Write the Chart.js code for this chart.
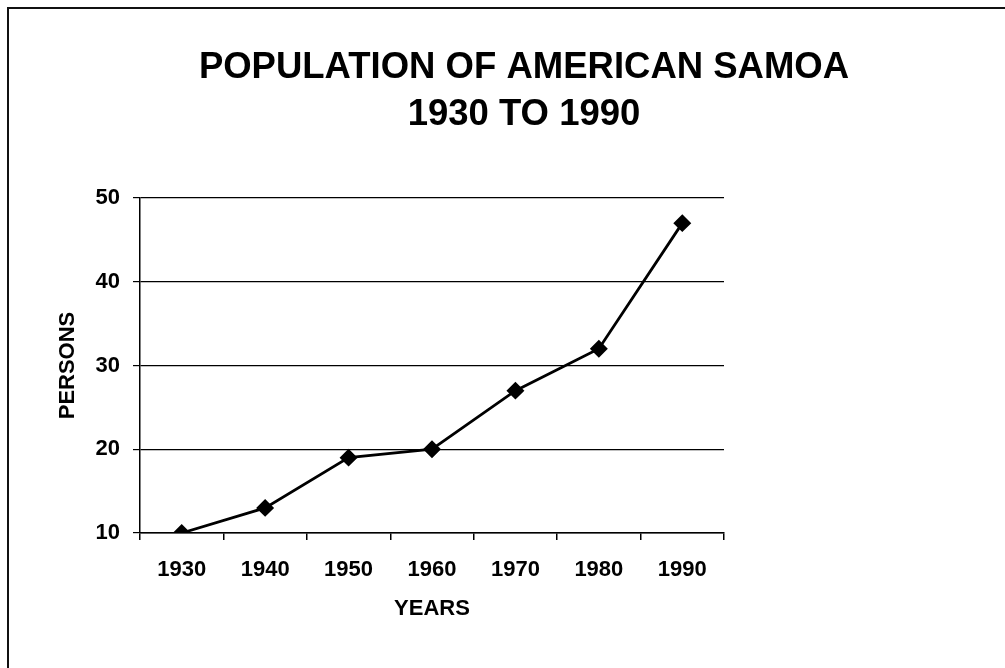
<!DOCTYPE html>
<html>
<head>
<meta charset="utf-8">
<script src="https://cdn.jsdelivr.net/npm/chart.js@4"></script>
<style>
  body { margin: 0; background: #fff; }
  #wrap { position: relative; width: 1005px; height: 668px; overflow: hidden; }
  #frame { position: absolute; left: 7px; top: 7px; width: 1100px; height: 800px;
           border-left: 2px solid #111; border-top: 2px solid #111; }
  canvas { position: absolute; left: 0; top: 0; }
</style>
</head>
<body>
<div id="wrap">
  <div id="frame"></div>
  <canvas id="popChart" width="1005" height="668"></canvas>
</div>
<script>
// chart data
const years = ['1930', '1940', '1950', '1960', '1970', '1980', '1990'];
const persons = [10, 13, 19, 20, 27, 32, 47];
const titleLines = ['POPULATION OF AMERICAN SAMOA', '1930 TO 1990'];
const yMin = 10, yMax = 50, yStep = 10;

const FONT = '"Liberation Sans", Arial, sans-serif';

const ctx = document.getElementById('popChart').getContext('2d');
new Chart(ctx, {
    type: 'line',
    data: {
        labels: years,
        datasets: [{
            label: 'Persons',
            data: persons,
            borderColor: '#000',
            backgroundColor: '#000',
            borderWidth: 2.8,
            pointStyle: 'rectRot',
            pointRadius: 7,
            pointHoverRadius: 7,
            fill: false,
            tension: 0,
            yAxisID: 'y'
        }]
    },
    options: {
        responsive: false,
        animation: false,
        layout: { padding: { left: 43, right: 0, top: 0, bottom: 0 } },
        plugins: {
            legend: { display: false },
            tooltip: { enabled: false },
            title: {
                display: true,
                text: titleLines,
                color: '#000',
                font: { family: FONT, size: 36.5, weight: 'bold', lineHeight: '47.5px' },
                padding: { top: 44, bottom: 59 }
            }
        },
        scales: {
            x: {
                offset: true,
                grid: { offset: true, drawOnChartArea: false, drawTicks: true, tickLength: 7, color: '#000', lineWidth: 1.5 },
                border: { color: '#000', width: 1.5 },
                ticks: { color: '#000', padding: 17, font: { family: FONT, size: 22, weight: 'bold' } },
                title: {
                    display: true, text: 'YEARS', color: '#000',
                    font: { family: FONT, size: 22, weight: 'bold' },
                    padding: { top: 0, bottom: 46 }
                },
                afterFit: function (scale) { scale.height = 135; }
            },
            y: {
                position: 'left',
                min: yMin,
                max: yMax,
                ticks: { stepSize: yStep, color: '#000', padding: 13, font: { family: FONT, size: 22, weight: 'bold' } },
                grid: { color: '#000', lineWidth: 1.2, tickLength: 7 },
                border: { color: '#000', width: 1.5 },
                title: {
                    display: true, text: 'PERSONS', color: '#000',
                    font: { family: FONT, size: 22, weight: 'bold' },
                    padding: { top: 12 }
                },
                afterFit: function (scale) { scale.width = 97; }
            },
            // empty right-hand space, same as in the original layout
            spacer: {
                type: 'linear',
                position: 'right',
                grid: { display: false },
                border: { display: false },
                ticks: { display: false },
                afterFit: function (scale) { scale.width = 281; }
            }
        }
    }
});
</script>
</body>
</html>
